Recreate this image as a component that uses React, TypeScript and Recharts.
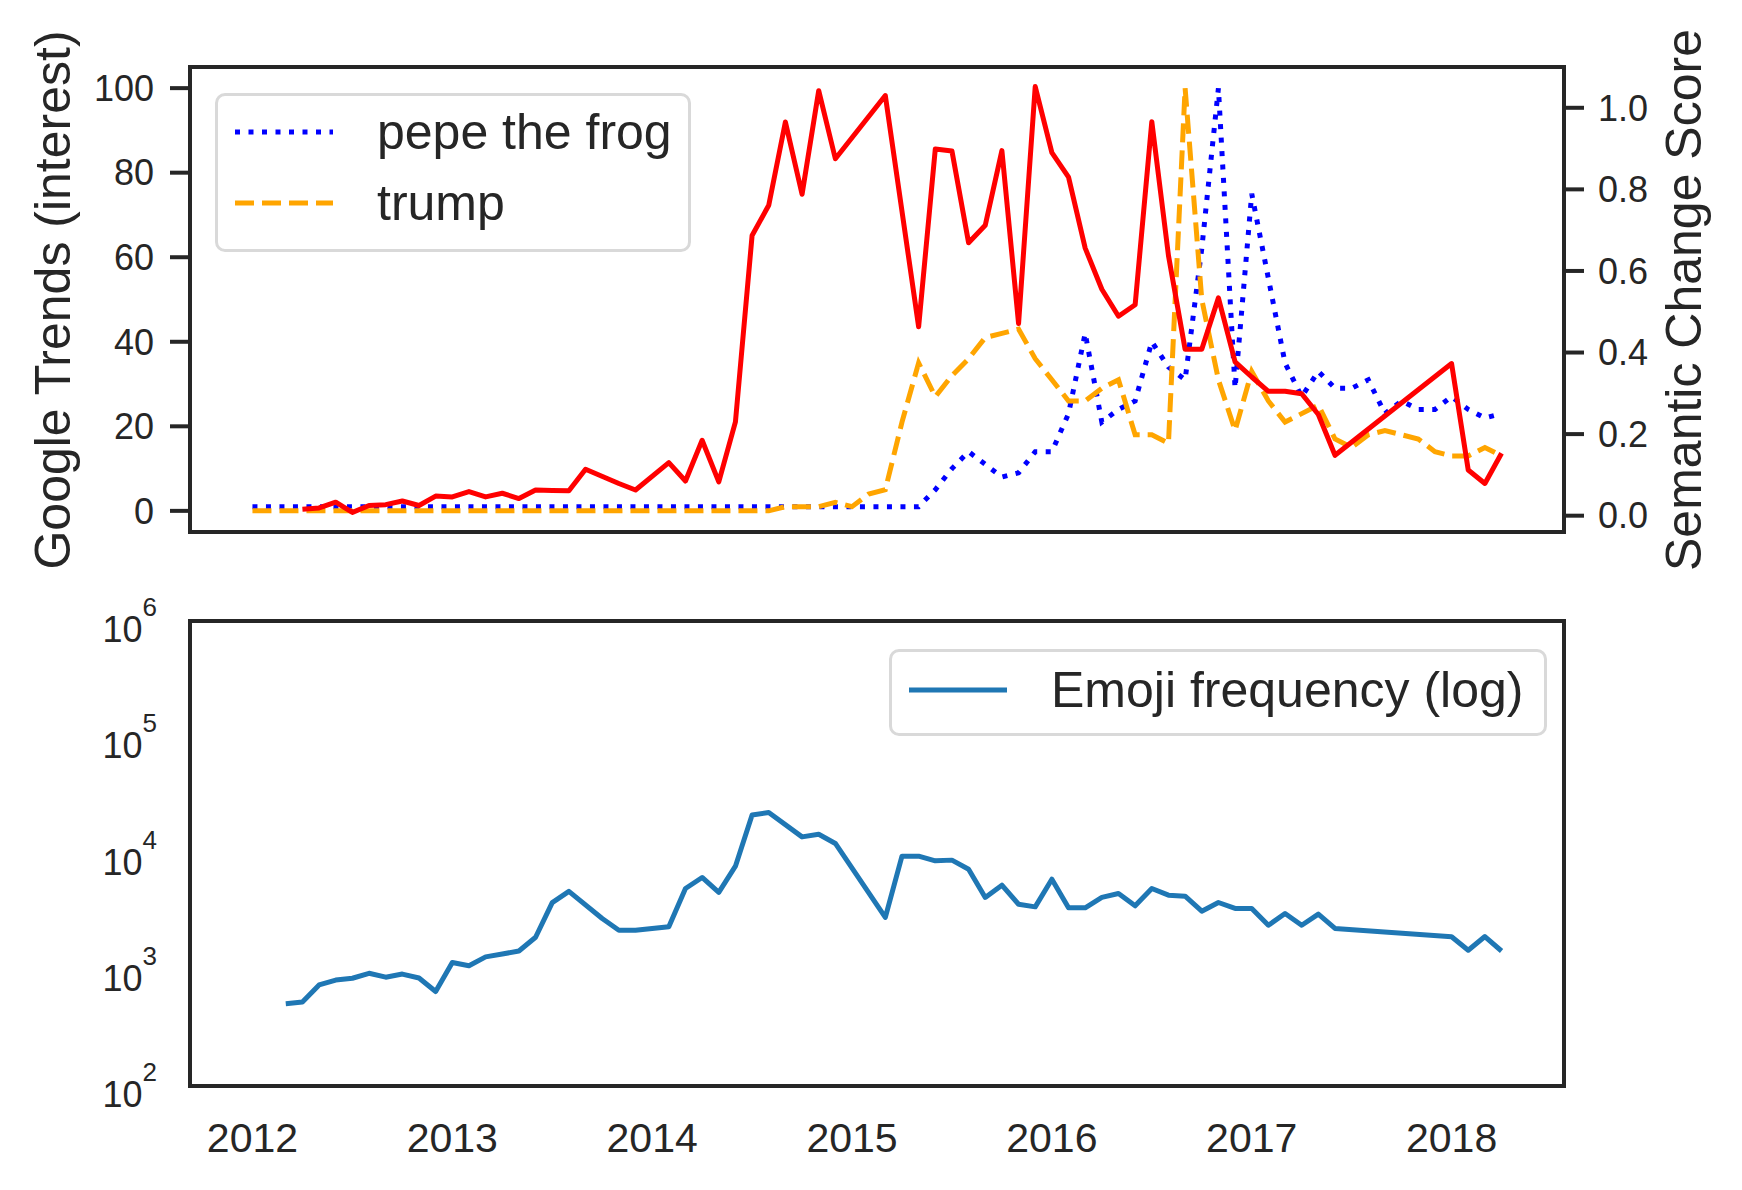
import { Legend, Line, LineChart, XAxis, YAxis } from 'recharts'

const INK = '#262626'
const FONT = '"Liberation Sans", Arial, Helvetica, sans-serif'
const DOTTED = '5 8.5'
const DASHED = '19 8'

// Google Trends interest, one value per month starting January 2012
const trendFirstYear = 2012
const pepeTheFrog = [
  1, 1, 1, 1, 1, 1, 1, 1, 1, 1, 1, 1,
  1, 1, 1, 1, 1, 1, 1, 1, 1, 1, 1, 1,
  1, 1, 1, 1, 1, 1, 1, 1, 1, 1, 1, 1,
  1, 1, 1, 1, 1, 5, 10, 14, 11, 8, 9, 14,
  14, 23, 42, 21, 24, 26, 40, 34, 31, 62, 100, 29,
  75, 55, 35, 27, 33, 29, 29, 31, 23, 26, 24, 24,
  27, 24, 22, 23,
]
const trump = [
  0, 0, 0, 0, 0, 0, 0, 0, 0, 0, 0, 0,
  0, 0, 0, 0, 0, 0, 0, 0, 0, 0, 0, 0,
  0, 0, 0, 0, 0, 0, 0, 0, 1, 1, 1, 2,
  1, 4, 5, 21, 35, 27, 32, 36, 41, 42, 43, 36,
  31, 26, 26, 29, 31, 18, 18, 16, 100, 50, 31, 19,
  33, 26, 21, 23, 25, 17, 15, 18, 19, 18, 17, 14,
  13, 13, 15, 13,
]

// semantic change score (right axis), months with a value
const semanticMonths = [
  '2012-04', '2012-05', '2012-06', '2012-07', '2012-08', '2012-09', '2012-10', '2012-11', '2012-12',
  '2013-01', '2013-02', '2013-03', '2013-04', '2013-05', '2013-06', '2013-07', '2013-08', '2013-09',
  '2013-11', '2013-12', '2014-02', '2014-03', '2014-04', '2014-05', '2014-06', '2014-07', '2014-08',
  '2014-09', '2014-10', '2014-11', '2014-12', '2015-03', '2015-05', '2015-06', '2015-07', '2015-08',
  '2015-09', '2015-10', '2015-11', '2015-12', '2016-01', '2016-02', '2016-03', '2016-04', '2016-05',
  '2016-06', '2016-07', '2016-08', '2016-09', '2016-10', '2016-11', '2016-12', '2017-01', '2017-02',
  '2017-03', '2017-04', '2017-05', '2017-06', '2018-01', '2018-02', '2018-03', '2018-04',
]
const semanticScore = [
  0.016, 0.019, 0.033, 0.008, 0.025, 0.027, 0.036, 0.025, 0.048,
  0.046, 0.059, 0.046, 0.055, 0.042, 0.063, 0.062, 0.061, 0.114,
  0.079, 0.063, 0.13, 0.085, 0.185, 0.083, 0.23, 0.687, 0.761,
  0.965, 0.788, 1.042, 0.875, 1.03, 0.463, 0.899, 0.894, 0.669,
  0.712, 0.895, 0.471, 1.052, 0.89, 0.83, 0.656, 0.555, 0.489,
  0.517, 0.966, 0.638, 0.408, 0.408, 0.534, 0.377, 0.34, 0.305,
  0.305, 0.299, 0.248, 0.148, 0.373, 0.112, 0.079, 0.153,
]

// emoji frequency (log axis)
const emojiMonths = [
  '2012-03', '2012-04', '2012-05', '2012-06', '2012-07', '2012-08', '2012-09', '2012-10', '2012-11', '2012-12',
  '2013-01', '2013-02', '2013-03', '2013-04', '2013-05', '2013-06', '2013-07', '2013-08', '2013-10', '2013-11',
  '2013-12', '2014-02', '2014-03', '2014-04', '2014-05', '2014-06', '2014-07', '2014-08', '2014-10', '2014-11',
  '2014-12', '2015-03', '2015-04', '2015-05', '2015-06', '2015-07', '2015-08', '2015-09', '2015-10', '2015-11',
  '2015-12', '2016-01', '2016-02', '2016-03', '2016-04', '2016-05', '2016-06', '2016-07', '2016-08', '2016-09',
  '2016-10', '2016-11', '2016-12', '2017-01', '2017-02', '2017-03', '2017-04', '2017-05', '2017-06', '2018-01',
  '2018-02', '2018-03', '2018-04',
]
const emojiFrequency = [
  511, 527, 740, 815, 845, 932, 863, 918, 850, 650,
  1155, 1081, 1290, 1367, 1450, 1905, 3785, 4720, 2760, 2190,
  2190, 2340, 5000, 6220, 4630, 7780, 21400, 22500, 13900, 14650,
  12200, 2820, 9480, 9480, 8650, 8770, 7330, 4190, 5340, 3660,
  3475, 6010, 3410, 3410, 4190, 4530, 3550, 5000, 4380, 4290,
  3190, 3790, 3370, 3370, 2414, 3050, 2414, 3010, 2265, 1920,
  1472, 1930, 1450,
]

const yearTicks = [2012, 2013, 2014, 2015, 2016, 2017, 2018]
const trendTicks = [0, 20, 40, 60, 80, 100]
const scoreTicks = [0, 0.2, 0.4, 0.6, 0.8, 1.0]
const frequencyTicks = [1e2, 1e3, 1e4, 1e5, 1e6]

const X_DOMAIN: [number, number] = [2011.6875, 2018.5625]

function toYear(month: string) {
  const [y, m] = month.split('-').map(Number)
  return y + (m - 1) / 12
}

const trendData = pepeTheFrog.map((pepe, i) => ({
  x: trendFirstYear + i / 12,
  pepe,
  trump: trump[i],
}))
const scoreData = semanticMonths.map((m, i) => ({ x: toYear(m), score: semanticScore[i] }))
const emojiData = emojiMonths.map((m, i) => ({ x: toYear(m), freq: emojiFrequency[i] }))

const dashFor: Record<string, string | undefined> = { pepe: DOTTED, trump: DASHED }

type LegendEntry = { value?: string; color?: string; dataKey?: unknown; type?: string }

function LegendBox({
  payload,
  keys,
  rows,
  width,
  height,
}: {
  payload?: LegendEntry[]
  keys: string[]
  rows: number[]
  width: number
  height: number
}) {
  const items = keys
    .map((k) => (payload ?? []).find((e) => String(e.dataKey) === k))
    .filter((e): e is LegendEntry => Boolean(e))
  return (
    <div
      style={{
        position: 'relative',
        width,
        height,
        boxSizing: 'border-box',
        border: '3px solid #d9d9d9',
        borderRadius: 10,
        background: '#fff',
      }}
    >
      {items.map((entry, i) => {
        const key = String(entry.dataKey)
        const cy = rows[i] - 3
        return (
          <div key={key}>
            <svg width={98} height={10} style={{ position: 'absolute', left: 17, top: cy - 5 }}>
              <line
                x1={0}
                y1={5}
                x2={98}
                y2={5}
                stroke={entry.color}
                strokeWidth={5}
                strokeDasharray={dashFor[key]}
              />
            </svg>
            <span
              style={{
                position: 'absolute',
                left: 159,
                top: cy - 25,
                fontSize: 50,
                lineHeight: '50px',
                whiteSpace: 'nowrap',
                color: INK,
                fontFamily: FONT,
              }}
            >
              {entry.value}
            </span>
          </div>
        )
      })}
    </div>
  )
}

function PowerTick(props: any) {
  const { x, y, payload } = props
  const exponent = Math.round(Math.log10(payload.value))
  return (
    <text x={x} y={y + 21} textAnchor="end" fill={INK} fontFamily={FONT} fontSize={36}>
      10
      <tspan dy={-26} fontSize={26}>
        {exponent}
      </tspan>
    </text>
  )
}

function frame(left: number, top: number, width: number, height: number) {
  return {
    position: 'absolute' as const,
    left: left - 2,
    top: top - 2,
    width: width + 4,
    height: height + 4,
    boxSizing: 'border-box' as const,
    border: `4px solid ${INK}`,
    pointerEvents: 'none' as const,
  }
}

function axisTitle(cx: number, cy: number) {
  return {
    position: 'absolute' as const,
    left: cx,
    top: cy,
    transform: 'translate(-50%, -50%) rotate(-90deg)',
    whiteSpace: 'nowrap' as const,
    fontSize: 50,
    lineHeight: '50px',
    color: INK,
    fontFamily: FONT,
  }
}

const tickText = { fill: INK, fontSize: 36, fontFamily: FONT }

export default function App() {
  return (
    <div
      style={{
        position: 'absolute',
        left: 0,
        top: 0,
        width: 1742,
        height: 1190,
        background: '#fff',
        fontFamily: FONT,
      }}
    >
      <div style={{ position: 'absolute', left: 0, top: 0 }}>
        <LineChart
          width={1742}
          height={560}
          margin={{ top: 67, right: 78, bottom: 28, left: 90 }}
          style={{ fontFamily: FONT }}
        >
          <XAxis dataKey="x" type="number" domain={X_DOMAIN} allowDataOverflow hide />
          <YAxis
            yAxisId="trend"
            domain={[-5, 105]}
            ticks={trendTicks}
            interval={0}
            width={100}
            axisLine={false}
            tickLine={{ stroke: INK, strokeWidth: 4 }}
            tickSize={20}
            tickMargin={16}
            tick={tickText}
            allowDataOverflow
          />
          <YAxis
            yAxisId="score"
            orientation="right"
            domain={[-0.04, 1.1]}
            ticks={scoreTicks}
            interval={0}
            width={100}
            axisLine={false}
            tickLine={{ stroke: INK, strokeWidth: 4 }}
            tickSize={20}
            tickMargin={14}
            tick={tickText}
            tickFormatter={(v: number) => v.toFixed(1)}
            allowDataOverflow
          />
          <Legend
            layout="horizontal"
            verticalAlign="middle"
            align="center"
            wrapperStyle={{ left: 215, top: 93, width: 476, height: 159 }}
            content={(props: any) => (
              <LegendBox
                payload={props.payload}
                keys={['pepe', 'trump']}
                rows={[39, 110]}
                width={476}
                height={159}
              />
            )}
          />
          <Line
            data={trendData}
            yAxisId="trend"
            dataKey="pepe"
            name="pepe the frog"
            stroke="#0000ff"
            strokeWidth={5}
            strokeDasharray={DOTTED}
            dot={false}
            activeDot={false}
            isAnimationActive={false}
          />
          <Line
            data={trendData}
            yAxisId="trend"
            dataKey="trump"
            name="trump"
            stroke="#ffa500"
            strokeWidth={5}
            strokeDasharray={DASHED}
            dot={false}
            activeDot={false}
            isAnimationActive={false}
          />
          <Line
            data={scoreData}
            yAxisId="score"
            dataKey="score"
            name="semantic change"
            stroke="#ff0000"
            strokeWidth={5}
            strokeLinejoin="round"
            legendType="none"
            dot={false}
            activeDot={false}
            isAnimationActive={false}
          />
        </LineChart>
      </div>

      <div style={{ position: 'absolute', left: 0, top: 560 }}>
        <LineChart
          width={1742}
          height={630}
          margin={{ top: 61, right: 178, bottom: 44, left: 90 }}
          style={{ fontFamily: FONT }}
        >
          <XAxis
            dataKey="x"
            type="number"
            domain={X_DOMAIN}
            ticks={yearTicks}
            interval={0}
            height={60}
            axisLine={false}
            tickLine={false}
            tickSize={0}
            tickMargin={37}
            tick={{ fill: INK, fontSize: 41, fontFamily: FONT }}
            allowDataOverflow
          />
          <YAxis
            scale="log"
            domain={[100, 1000000]}
            ticks={frequencyTicks}
            interval={0}
            width={100}
            axisLine={false}
            tickLine={false}
            tickSize={0}
            tickMargin={33}
            tick={<PowerTick />}
            allowDataOverflow
          />
          <Legend
            layout="horizontal"
            verticalAlign="middle"
            align="center"
            wrapperStyle={{ left: 889, top: 89, width: 658, height: 87 }}
            content={(props: any) => (
              <LegendBox payload={props.payload} keys={['freq']} rows={[41]} width={658} height={87} />
            )}
          />
          <Line
            data={emojiData}
            dataKey="freq"
            name="Emoji frequency (log)"
            stroke="#1f77b4"
            strokeWidth={5}
            strokeLinejoin="round"
            dot={false}
            activeDot={false}
            isAnimationActive={false}
          />
        </LineChart>
      </div>

      <div style={frame(190, 67, 1374, 465)} />
      <div style={frame(190, 621, 1374, 465)} />
      <div style={axisTitle(53, 300)}>Google Trends (interest)</div>
      <div style={axisTitle(1684, 300)}>Semantic Change Score</div>
    </div>
  )
}
